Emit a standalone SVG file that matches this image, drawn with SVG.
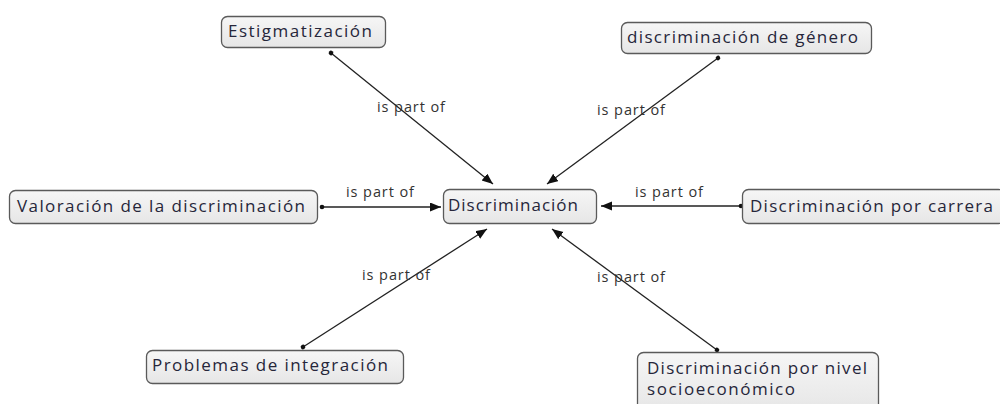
<svg xmlns="http://www.w3.org/2000/svg" width="1000" height="404" viewBox="0 0 1000 404">
  <style>
    .box { fill: url(#g); stroke: #5a5a5a; stroke-width: 1.3; }
    .nt { font-family: "Open Sans", "DejaVu Sans", sans-serif; font-size: 17px; fill: #26263a; }
    .lbl { font-family: "Open Sans", "DejaVu Sans", sans-serif; font-size: 14.5px; fill: #333; }
    .edge { stroke: #222; stroke-width: 1.3; fill: none; marker-end: url(#arr); marker-start: url(#dot); }
  </style>
  <defs>
    <linearGradient id="g" x1="0" y1="0" x2="0" y2="1">
      <stop offset="0" stop-color="#f6f6f6"/>
      <stop offset="1" stop-color="#e6e6e6"/>
    </linearGradient>
    <marker id="arr" markerUnits="userSpaceOnUse" markerWidth="12" markerHeight="10" refX="11" refY="4.5" orient="auto">
      <path d="M0,0 L11,4.5 L0,9 z" fill="#111"/>
    </marker>
    <marker id="dot" markerUnits="userSpaceOnUse" markerWidth="6" markerHeight="6" refX="3" refY="3" orient="auto">
      <circle cx="3" cy="3" r="2.3" fill="#111"/>
    </marker>
  </defs>

  <g id="connectors">
    <line class="edge" x1="331" y1="53" x2="493" y2="184"/>
    <line class="edge" x1="718" y1="58" x2="547" y2="184"/>
    <line class="edge" x1="322" y1="207" x2="441" y2="207"/>
    <line class="edge" x1="741" y1="206" x2="601" y2="206"/>
    <line class="edge" x1="303" y1="347" x2="487" y2="229"/>
    <line class="edge" x1="717" y1="350" x2="552" y2="229"/>
    <text class="lbl" x="377" y="112" textLength="68" lengthAdjust="spacing">is part of</text>
    <text class="lbl" x="597" y="115" textLength="68" lengthAdjust="spacing">is part of</text>
    <text class="lbl" x="346" y="197" textLength="68" lengthAdjust="spacing">is part of</text>
    <text class="lbl" x="635" y="197" textLength="68" lengthAdjust="spacing">is part of</text>
    <text class="lbl" x="362" y="280" textLength="68" lengthAdjust="spacing">is part of</text>
    <text class="lbl" x="597" y="282" textLength="68" lengthAdjust="spacing">is part of</text>
  </g>

  <g id="n-estigmatizacion">
    <rect class="box" x="221.5" y="16.5" width="164" height="31" rx="6"/>
    <text class="nt" x="228" y="37" textLength="144" lengthAdjust="spacing">Estigmatización</text>
  </g>
  <g id="n-genero">
    <rect class="box" x="621.5" y="22.5" width="250" height="31" rx="6"/>
    <text class="nt" x="627" y="43" textLength="231" lengthAdjust="spacing">discriminación de género</text>
  </g>
  <g id="n-valoracion">
    <rect class="box" x="9.5" y="190.5" width="308" height="33" rx="6"/>
    <text class="nt" x="17" y="212" textLength="288" lengthAdjust="spacing">Valoración de la discriminación</text>
  </g>
  <g id="n-discriminacion">
    <rect class="box" x="443.5" y="189.5" width="153" height="34" rx="6"/>
    <text class="nt" x="448" y="211" textLength="130" lengthAdjust="spacing">Discriminación</text>
  </g>
  <g id="n-carrera">
    <rect class="box" x="742.5" y="189.5" width="262" height="34" rx="6"/>
    <text class="nt" x="750" y="212" textLength="243" lengthAdjust="spacing">Discriminación por carrera</text>
  </g>
  <g id="n-problemas">
    <rect class="box" x="146.5" y="350.5" width="257" height="33" rx="6"/>
    <text class="nt" x="152" y="371" textLength="236" lengthAdjust="spacing">Problemas de integración</text>
  </g>
  <g id="n-nivel">
    <rect class="box" x="637.5" y="352.5" width="241" height="60" rx="6"/>
    <text class="nt" x="647" y="374" textLength="220" lengthAdjust="spacing">Discriminación por nivel</text>
    <text class="nt" x="647" y="395" textLength="148" lengthAdjust="spacing">socioeconómico</text>
  </g>
</svg>
